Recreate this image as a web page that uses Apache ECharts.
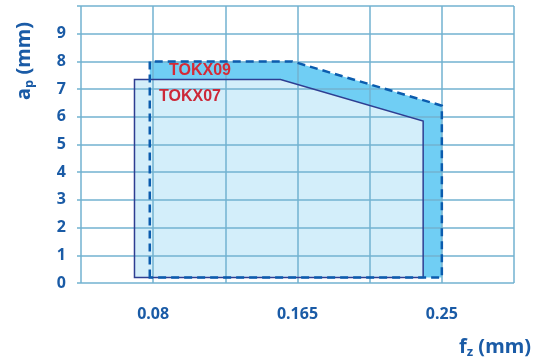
<!DOCTYPE html>
<html>
<head>
<meta charset="utf-8">
<script src="https://cdn.jsdelivr.net/npm/echarts@6/dist/echarts.min.js"></script>
<style>
  html, body { margin: 0; padding: 0; background: #fff; }
  #chart { width: 547px; height: 361px; }
</style>
</head>
<body>
<div id="chart"></div>
<script>
// fz (mm) / ap (mm) outlines of the two inserts
const tokx09Fz = [0.078, 0.078, 0.162, 0.25, 0.25];
const tokx09Ap = [0.2, 8.0, 8.0, 6.4, 0.2];
const tokx07Fz = [0.069, 0.069, 0.155, 0.239, 0.239];
const tokx07Ap = [0.2, 7.35, 7.35, 5.85, 0.2];

const gridFz = [0.0375, 0.08, 0.1225, 0.165, 0.2075, 0.25, 0.2925];
const fzLabels = [0.08, 0.165, 0.25];

const blue = '#1a5ba6';
const red = '#d62a35';
const lineColor = '#72b2d0';
const font = 'Noto Sans';

function polygon(xs, ys, style) {
    return (params, api) => ({
        type: 'polygon',
        shape: { points: xs.map((x, i) => api.coord([x, ys[i]])) },
        style: style
    });
}

function shape(xs, ys, z, style) {
    return {
        type: 'custom',
        z: z,
        data: [[xs[0], ys[0]]],
        renderItem: polygon(xs, ys, style)
    };
}

const chart = echarts.init(document.getElementById('chart'));
chart.setOption({
    animation: false,
    grid: { left: 81, right: 33, top: 6, bottom: 78 },
    xAxis: {
        type: 'value',
        min: 0.0375,
        max: 0.2925,
        axisLine: { show: false },
        axisTick: { show: false, customValues: gridFz },
        splitLine: { show: true, lineStyle: { color: lineColor, width: 1.5 } },
        axisLabel: {
            customValues: fzLabels,
            formatter: v => String(v),
            margin: 23,
            color: blue,
            fontSize: 16,
            fontWeight: 'bold',
            fontFamily: font
        }
    },
    yAxis: {
        type: 'value',
        min: 0,
        max: 10,
        interval: 1,
        axisLine: { show: false },
        axisTick: { show: true, length: 4, lineStyle: { color: lineColor, width: 1.5 } },
        splitLine: { lineStyle: { color: lineColor, width: 1.5 } },
        axisLabel: {
            formatter: v => v === 10 ? '' : String(v),
            margin: 15,
            color: blue,
            fontSize: 16,
            fontWeight: 'bold',
            fontFamily: font
        }
    },
    // fills sit under the grid lines, outlines above them
    series: [
        shape(tokx09Fz, tokx09Ap, -2, { fill: '#70cef4', stroke: null }),
        shape(tokx07Fz, tokx07Ap, -1, { fill: '#d3eefa', stroke: null }),
        shape(tokx07Fz, tokx07Ap, 2, { fill: null, stroke: '#2e3e92', lineWidth: 1.5 }),
        shape(tokx09Fz, tokx09Ap, 3, { fill: null, stroke: '#0b5cae', lineWidth: 2.5, lineDash: [8, 5] })
    ],
    graphic: [
        {
            type: 'text', left: 169, top: 63, z: 100,
            style: { text: 'TOKX09', fill: red, font: 'bold 16px "Liberation Sans"' }
        },
        {
            type: 'text', left: 159, top: 89, z: 100,
            style: { text: 'TOKX07', fill: '#cc2838', font: 'bold 16px "Liberation Sans"' }
        },
        {
            type: 'text', left: 459, top: 336,
            style: {
                text: '{a|f}{s|z}{a| (mm)}',
                rich: {
                    a: { fontSize: 20, fontWeight: 'bold', fill: blue, fontFamily: font, lineHeight: 24 },
                    s: { fontSize: 13, fontWeight: 'bold', fill: blue, fontFamily: font, lineHeight: 24, padding: [10, 0, 0, 0] }
                }
            }
        },
        {
            type: 'text', x: 12, y: 100, rotation: Math.PI / 2,
            style: {
                text: '{a|a}{s|p}{a| (mm)}',
                rich: {
                    a: { fontSize: 20, fontWeight: 'bold', fill: blue, fontFamily: font, lineHeight: 24 },
                    s: { fontSize: 13, fontWeight: 'bold', fill: blue, fontFamily: font, lineHeight: 24, padding: [10, 0, 0, 0] }
                }
            }
        }
    ]
});
</script>
</body>
</html>
